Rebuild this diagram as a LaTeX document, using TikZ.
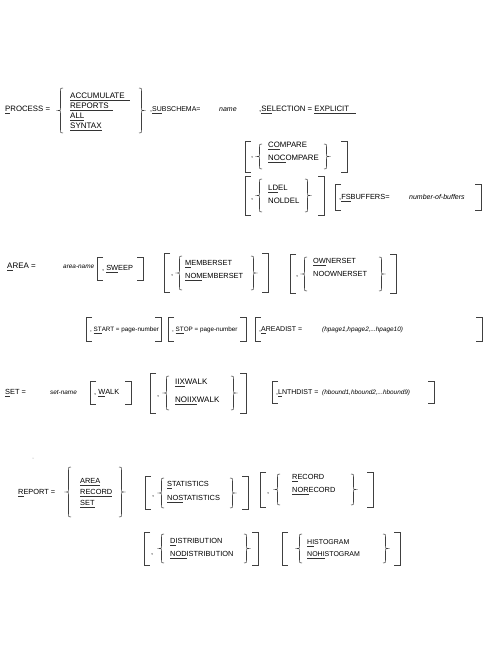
\documentclass[tikz,border=0pt]{standalone}
\usepackage{fontspec}
\setmainfont{Liberation Sans}
\newcommand\ul[1]{\setbox0\hbox{#1}\rlap{\color{black!80}\rule[-2pt]{\wd0}{0.5pt}}\box0}
\newcommand\LBk[3]{\draw[bk] ({#1+6},#2) -- (#1,#2) -- (#1,#3) -- ({#1+6},#3);}
\newcommand\RBk[3]{\draw[bk] ({#1-6},#2) -- (#1,#2) -- (#1,#3) -- ({#1-6},#3);}
\newcommand\LBr[3]{\draw[bk] ({#1+5},#2) .. controls ({#1+2.5},#2) .. ({#1+2.5},{#2+3}) -- ({#1+2.5},{(#2+#3)/2-2.5}) .. controls ({#1+2.5},{(#2+#3)/2}) .. (#1,{(#2+#3)/2}) .. controls ({#1+2.5},{(#2+#3)/2}) .. ({#1+2.5},{(#2+#3)/2+2.5}) -- ({#1+2.5},{#3-3}) .. controls ({#1+2.5},#3) .. ({#1+5},#3);}
\newcommand\RBr[3]{\draw[bk] ({#1-5},#2) .. controls ({#1-2.5},#2) .. ({#1-2.5},{#2+3}) -- ({#1-2.5},{(#2+#3)/2-2.5}) .. controls ({#1-2.5},{(#2+#3)/2}) .. (#1,{(#2+#3)/2}) .. controls ({#1-2.5},{(#2+#3)/2}) .. ({#1-2.5},{(#2+#3)/2+2.5}) -- ({#1-2.5},{#3-3}) .. controls ({#1-2.5},#3) .. ({#1-5},#3);}
\begin{document}
\begin{tikzpicture}[x=1pt,y=-1pt,
  t/.style={inner sep=0pt,anchor=base west,yshift=-2.6pt,font=\fontsize{7.4}{8}\selectfont},
  s8/.style={t,font=\fontsize{8}{9}\selectfont},
  s78/.style={t,font=\fontsize{7.8}{9}\selectfont},
  s7/.style={t,font=\fontsize{7}{8}\selectfont},
  s6/.style={t,font=\fontsize{6.3}{7}\selectfont},
  it/.style={t,font=\fontsize{7}{8}\selectfont\itshape},
  it6/.style={t,font=\fontsize{6.4}{7}\selectfont\itshape},
  bk/.style={draw=black!75,line width=0.55pt}]
\path[use as bounding box] (0,0) rectangle (490,653);
% ---------- PROCESS ----------
\node[s78] (process) at (5,109) {\ul{P}ROCESS =};
\LBr{58}{88}{133}
\node[s8] (accum) at (70,96) {\ul{ACCUMULATE\hspace{5pt}}};
\node[s8] (reports) at (70,106) {\ul{REPORTS\hspace{4pt}}};
\node[s8] (all) at (70,116) {\ul{ALL}};
\node[s8] (syntax) at (70,126) {\ul{SYNTAX}};
\RBr{144}{88}{133}
\node[s7] (subschema) at (150,109) {,\ul{SU}BSCHEMA=};
\node[it] (name) at (219,109) {name};
\node[s78] (selection) at (259,109) {,\ul{SE}LECTION = \ul{EXPLICIT\hspace{7pt}}};
% COMPARE
\LBk{245}{141}{172}
\node[t] (c1) at (251,155) {,};
\LBr{257}{144}{169}
\node[s78] (compare) at (268,145) {\ul{CO}MPARE};
\node[s78] (nocompare) at (268,158) {\ul{NOC}OMPARE};
\RBr{329}{144}{169}
\RBk{347}{141}{172}
% LDEL
\LBk{245}{176}{215}
\node[t] (c2) at (251,197) {,};
\LBr{257}{179}{212}
\node[s78] (ldel) at (268,188) {\ul{LD}EL};
\node[s78] (noldel) at (268,201) {NOLDEL};
\RBr{310}{179}{212}
\RBk{324}{176}{215}
% FSBUFFERS
\LBk{335}{184}{210}
\node[t] (fsbuf) at (339,197) {,\ul{FS}BUFFERS=};
\node[it] (nbuf) at (409,197) {number-of-buffers};
\RBk{481}{184}{210}
% ---------- AREA ----------
\node[s8] (area) at (7,266) {\ul{A}REA =};
\node[it6] (areaname) at (63,266) {area-name};
\LBk{97}{257}{280}
\node[t] (sweep) at (102,268) {, \ul{SW}EEP};
\RBk{143}{257}{280}
\LBk{164}{253}{292}
\node[t] (c3) at (171,273) {,};
\LBr{177}{256}{290}
\node[t] (memberset) at (185,263) {\ul{M}EMBERSET};
\node[t] (nomemberset) at (185,276) {\ul{NOM}EMBERSET};
\RBr{256}{256}{290}
\RBk{268}{253}{292}
\LBk{290}{254}{293}
\node[t] (c4) at (296,274) {,};
\LBr{302}{257}{291}
\node[t] (ownerset) at (313,261) {\ul{OW}NERSET};
\node[t] (noownerset) at (313,274) {NOOWNERSET};
\RBr{384}{257}{291}
\RBk{396}{254}{293}
% START / STOP / AREADIST
\LBk{86}{317}{341}
\node[s6] (start) at (90,329) {, \ul{ST}ART = page-number};
\RBk{161}{317}{341}
\LBk{168}{317}{341}
\node[s6] (stop) at (172,329) {, \ul{ST}OP = page-number};
\RBk{246}{317}{341}
\LBk{255}{317}{341}
\node[s7] (areadist) at (259,329) {,\ul{A}READIST =};
\node[it6] (hpage) at (322,329) {(hpage1,hpage2,...hpage10)};
\RBk{482}{317}{341}
% ---------- SET ----------
\node[t] (set) at (5,392) {\ul{S}ET =};
\node[it6] (setname) at (50,392) {set-name};
\LBk{90}{381}{404}
\node[t] (walk) at (94,392) {, \ul{W}ALK};
\RBk{131}{381}{404}
\LBk{150}{373}{413}
\node[t] (c5) at (157,394) {,};
\LBr{164}{376}{410}
\node[s8] (iixwalk) at (175,382) {\ul{IIX}WALK};
\node[s8] (noiixwalk) at (175,400) {\ul{NOIIX}WALK};
\RBr{236}{376}{410}
\RBk{246}{373}{413}
\LBk{272}{381}{403}
\node[s7] (lnthdist) at (276,392) {,\ul{L}NTHDIST =};
\node[it6] (hbound) at (322,392) {(hbound1,hbound2,...hbound9)};
\RBk{434}{381}{403}
% ---------- REPORT ----------
\fill[black!40] (33,458) circle (0.5);
\node[t] (report) at (18,492) {\ul{R}EPORT =};
\LBr{66}{467}{517}
\node[t] (rarea) at (80,481) {\ul{AREA}};
\node[t] (rrecord) at (80,492) {\ul{RECORD}};
\node[t] (rset) at (80,503) {\ul{SET}};
\RBr{124}{467}{517}
\LBk{145}{476}{509}
\node[t] (c6) at (152,494) {,};
\LBr{159}{478}{508}
\node[t] (stat) at (167,484) {\ul{S}TATISTICS};
\node[t] (nostat) at (167,498) {\ul{NOS}TATISTICS};
\RBr{235}{478}{508}
\RBk{248}{476}{509}
\LBk{260}{472}{507}
\node[t] (c7) at (267,491) {,};
\LBr{275}{474}{505}
\node[t] (record) at (292,477) {\ul{R}ECORD};
\node[t] (norecord) at (292,490) {\ul{NOR}ECORD};
\RBr{356}{474}{505}
\RBk{373}{472}{507}
% DISTRIBUTION / HISTOGRAM
\LBk{144}{532}{565}
\node[t] (c8) at (151,552) {,};
\LBr{159}{534}{563}
\node[t] (dist) at (170,541) {\ul{D}ISTRIBUTION};
\node[t] (nodist) at (170,554) {\ul{NOD}ISTRIBUTION};
\RBr{249}{534}{563}
\RBk{258}{532}{565}
\LBk{282}{532}{565}
\LBr{297}{534}{563}
\node[s7] (hist) at (307,542) {\ul{HI}STOGRAM};
\node[s7] (nohist) at (307,554) {\ul{NOHI}STOGRAM};
\RBr{388}{534}{563}
\RBk{400}{532}{565}
\end{tikzpicture}
\end{document}
